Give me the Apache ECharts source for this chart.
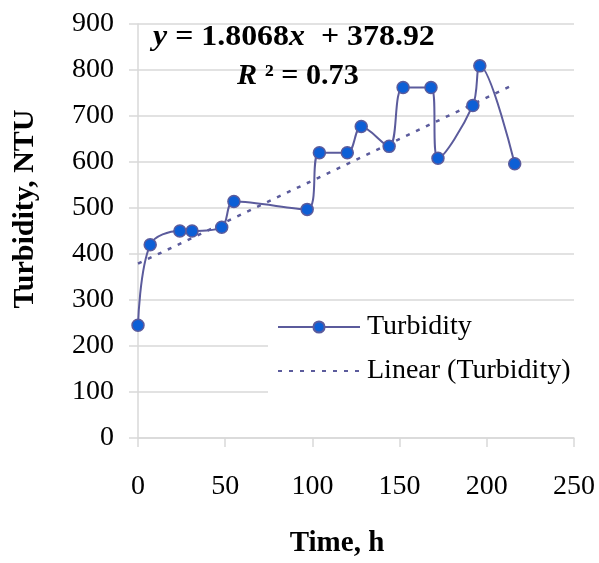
<!DOCTYPE html>
<html>
<head>
<meta charset="utf-8">
<script src="https://cdn.jsdelivr.net/npm/echarts@6/dist/echarts.min.js"></script>
<style>
html,body{margin:0;padding:0;background:#fff;}
#chart{width:599px;height:563px;}
</style>
</head>
<body>
<div id="chart"></div>
<script>
// Data
var timeH = [0, 7, 24, 31, 48, 55, 97, 104, 120, 128, 144, 152, 168, 172, 192, 196, 216];
var turbidity = [245, 420, 450, 450, 458, 514, 497, 620, 620, 677, 634, 762, 762, 608, 723, 809, 596];
var trendSlope = 1.8068;
var trendIntercept = 378.92;
var rSquared = 0.73;
var xTicks = [0, 50, 100, 150, 200, 250];
var yTicks = [0, 100, 200, 300, 400, 500, 600, 700, 800, 900];

var FONT = '"Liberation Serif", "Times New Roman", serif';
var LINE_COLOR = '#5b5b9c';
var MARK_COLOR = '#0d5fd6';
var GRID_COLOR = '#d9d9d9';

var seriesData = timeH.map(function (t, i) { return [t, turbidity[i]]; });
var tStart = timeH[0], tEnd = timeH[timeH.length - 1];
var trendData = [
  [tStart, trendSlope * tStart + trendIntercept],
  [tEnd, trendSlope * tEnd + trendIntercept]
];

var eqRich = {
  i: {fontFamily: FONT, fontSize: 29, fontWeight: 'bold', fontStyle: 'italic', fill: '#000'},
  b: {fontFamily: FONT, fontSize: 29, fontWeight: 'bold', fill: '#000'}
};

var chart = echarts.init(document.getElementById('chart'), null, {renderer: 'canvas'});
chart.setOption({
  animation: false,
  backgroundColor: '#fff',
  grid: {left: 138, right: 25, top: 24, bottom: 118, containLabel: false},
  xAxis: {
    type: 'value', min: xTicks[0], max: xTicks[xTicks.length - 1], interval: 50,
    name: 'Time, h', nameLocation: 'middle', nameGap: 91,
    nameTextStyle: {fontFamily: FONT, fontSize: 29, fontWeight: 'bold', color: '#000', padding: [0, 38, 0, 0]},
    axisLine: {show: true, lineStyle: {color: GRID_COLOR, width: 1.5}},
    axisTick: {show: true, length: 9, lineStyle: {color: GRID_COLOR, width: 1.5}},
    axisLabel: {fontFamily: FONT, fontSize: 28, color: '#000', margin: 35},
    splitLine: {show: false}
  },
  yAxis: {
    type: 'value', min: yTicks[0], max: yTicks[yTicks.length - 1], interval: 100,
    name: 'Turbidity, NTU', nameLocation: 'middle', nameGap: 98,
    nameTextStyle: {fontFamily: FONT, fontSize: 30, fontWeight: 'bold', color: '#000', padding: [0, 0, 0, 44]},
    axisLine: {show: true, lineStyle: {color: GRID_COLOR, width: 1.5}},
    axisTick: {show: true, length: 9, lineStyle: {color: GRID_COLOR, width: 1.5}},
    axisLabel: {fontFamily: FONT, fontSize: 28, color: '#000', margin: 24},
    splitLine: {show: true, lineStyle: {color: GRID_COLOR, width: 1.5}}
  },
  legend: {
    orient: 'vertical', left: 268, top: 303,
    padding: [10, 20, 14, 9],
    backgroundColor: '#fff',
    itemWidth: 82, itemHeight: 14, itemGap: 16,
    textStyle: {fontFamily: FONT, fontSize: 28, color: '#000', padding: [0, 0, 0, 2]},
    data: [
      {name: 'Turbidity'},
      {name: 'Linear (Turbidity)', itemStyle: {opacity: 0}}
    ]
  },
  graphic: [
    {
      type: 'text', x: 153, y: 23, scaleX: 1.1, z: 100,
      style: {
        x: 0, y: 0, verticalAlign: 'top', align: 'left',
        rich: eqRich,
        text: '{i|y}{b| = ' + trendSlope.toFixed(4) + '}{i|x}{b|  + ' + trendIntercept.toFixed(2) + '}'
      }
    },
    {
      type: 'text', x: 237, y: 62, scaleX: 1.04, z: 100,
      style: {
        x: 0, y: 0, verticalAlign: 'top', align: 'left',
        rich: eqRich,
        text: '{i|R}{b| ² = ' + rSquared.toFixed(2) + '}'
      }
    }
  ],
  series: [
    {
      name: 'Linear (Turbidity)', type: 'line', data: trendData,
      symbol: 'none', z: 2,
      lineStyle: {color: LINE_COLOR, width: 2.5, type: [4, 7]},
      itemStyle: {color: LINE_COLOR}
    },
    {
      name: 'Turbidity', type: 'line', data: seriesData,
      smooth: 0.35, symbol: 'circle', symbolSize: 12, z: 3,
      lineStyle: {color: LINE_COLOR, width: 2},
      itemStyle: {color: MARK_COLOR, borderColor: LINE_COLOR, borderWidth: 1.5}
    }
  ]
});
</script>
</body>
</html>
